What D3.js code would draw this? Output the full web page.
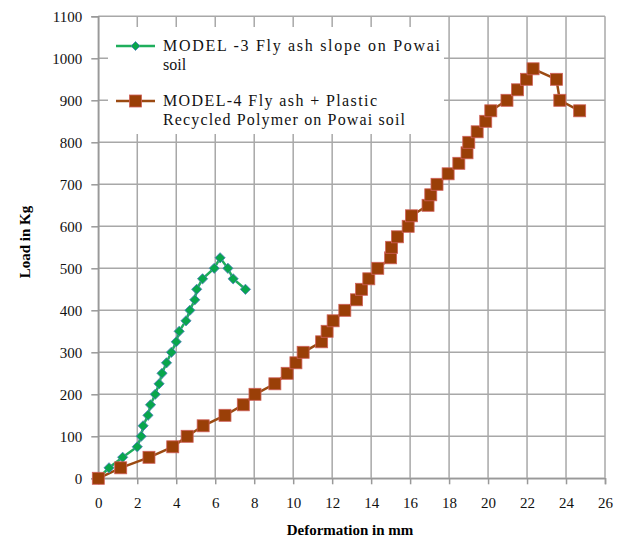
<!DOCTYPE html>
<html><head><meta charset="utf-8">
<script src="https://cdn.jsdelivr.net/npm/d3@7"></script>
<style>body{margin:0;background:#fff}svg{display:block}svg text{font-family:"Liberation Serif","Times New Roman",serif}</style>
</head><body>
<svg id="chart" width="630" height="539"></svg>
<script>
// ---- data ----
const xTicks = [0,2,4,6,8,10,12,14,16,18,20,22,24,26];
const yTicks = [0,100,200,300,400,500,600,700,800,900,1000,1100];
const model3Def  = [0,0.55,1.25,2.0,2.2,2.3,2.55,2.68,2.92,3.12,3.27,3.5,3.75,4.0,4.15,4.5,4.7,4.95,5.05,5.35,5.95,6.25,6.65,6.92,7.55];
const model3Load = [0,25,50,75,100,125,150,175,200,225,250,275,300,325,350,375,400,425,450,475,500,525,500,475,450];
const model4Def  = [0,1.15,2.6,3.82,4.56,5.38,6.5,7.44,8.04,9.06,9.69,10.14,10.51,11.46,11.74,12.05,12.65,13.25,13.51,13.88,14.34,15.0,15.05,15.35,15.9,16.07,16.92,17.06,17.38,17.95,18.5,18.92,19.01,19.44,19.88,20.14,20.97,21.51,21.97,22.31,23.51,23.68,24.7];
const model4Load = [0,25,50,75,100,125,150,175,200,225,250,275,300,325,350,375,400,425,450,475,500,525,550,575,600,625,650,675,700,725,750,775,800,825,850,875,900,925,950,975,950,900,875];
const seriesNames = [["MODEL  -3 Fly ash slope on Powai","soil"],["MODEL-4 Fly ash + Plastic","Recycled Polymer on Powai soil"]];

// ---- layout ----
const svg = d3.select("#chart");
const font = '"Liberation Serif","Times New Roman",serif';
const x = d3.scaleLinear().domain([0,26]).range([98.3,605]);
const y = d3.scaleLinear().domain([0,1100]).range([478.3,16.3]);
const gridColor = "#a8a8a8";

// gridlines
const g = svg.append("g");
g.selectAll("line.v").data(xTicks).join("line")
  .attr("x1", d=>x(d)).attr("x2", d=>x(d)).attr("y1", y(0)).attr("y2", y(1100))
  .attr("stroke", gridColor).attr("stroke-width", 1.5);
g.selectAll("line.h").data(yTicks).join("line")
  .attr("x1", x(0)).attr("x2", x(26)).attr("y1", d=>y(d)).attr("y2", d=>y(d))
  .attr("stroke", gridColor).attr("stroke-width", 1.5);

// axes
const xAxis = svg.append("g").attr("transform", `translate(0,${y(0)})`)
  .call(d3.axisBottom(x).tickValues(xTicks).tickSize(6).tickPadding(13).tickFormat(d3.format("d")));
const yAxis = svg.append("g").attr("transform", `translate(${x(0)},0)`)
  .call(d3.axisLeft(y).tickValues(yTicks).tickSize(7).tickPadding(9).tickFormat(d3.format("d")));
[xAxis, yAxis].forEach(a => {
  a.attr("font-family", null).attr("font-size", null);
  a.select(".domain").attr("stroke", "#999").attr("stroke-width", 1.5);
  a.selectAll(".tick line").attr("stroke", "#999").attr("stroke-width", 1.5);
  a.selectAll("text").style("font-family", font).style("font-size", "15px").attr("fill", "#111");
});

// axis titles
svg.append("text").attr("x", 350).attr("y", 535).attr("text-anchor", "middle")
  .style("font-family", font).attr("font-weight", "bold").style("font-size", "15px")
  .text("Deformation in mm");
svg.append("text").attr("transform", "translate(30,242) rotate(-90)").attr("text-anchor", "middle")
  .style("font-family", font).attr("font-weight", "bold").style("font-size", "15px")
  .text("Load in Kg");

// legend box
svg.append("rect").attr("x", 108).attr("y", 27).attr("width", 336).attr("height", 107).attr("fill", "#fff");

const green = "#1fae5c", greenFill = "#08a64c", greenEdge = "#4f81bd";
const brown = "#9b4a12", brownFill = "#9a3f07", brownEdge = "#d0605a";

const line = d3.line().x(d=>x(d[0])).y(d=>y(d[1]));
const d3data = model3Def.map((v,i)=>[v, model3Load[i]]);
const d4data = model4Def.map((v,i)=>[v, model4Load[i]]);

// series 4 (brown)
svg.append("path").datum(d4data).attr("d", line).attr("fill","none")
  .attr("stroke", brown).attr("stroke-width", 2.5);
// series 3 (green)
svg.append("path").datum(d3data).attr("d", line).attr("fill","none")
  .attr("stroke", green).attr("stroke-width", 2.5);

svg.append("g").selectAll("path").data(d3data).join("path")
  .attr("d", d3.symbol().type(d3.symbolSquare).size(52))
  .attr("transform", d=>`translate(${x(d[0])},${y(d[1])}) rotate(45)`)
  .attr("fill", greenFill).attr("stroke", greenEdge).attr("stroke-width", 0.8);

const sq = 12;
svg.append("g").selectAll("rect").data(d4data).join("rect")
  .attr("x", d=>x(d[0])-sq/2).attr("y", d=>y(d[1])-sq/2).attr("width", sq).attr("height", sq)
  .attr("fill", brownFill).attr("stroke", brownEdge).attr("stroke-width", 0.8);

// legend entries
const leg = svg.append("g");
leg.append("line").attr("x1",116).attr("x2",155).attr("y1",46).attr("y2",46).attr("stroke",green).attr("stroke-width",2.5);
leg.append("path").attr("d", d3.symbol().type(d3.symbolSquare).size(40)).attr("transform","translate(135.5,46) rotate(45)")
  .attr("fill", greenFill).attr("stroke", greenEdge).attr("stroke-width",0.8);
leg.append("line").attr("x1",116).attr("x2",155).attr("y1",101).attr("y2",101).attr("stroke",brown).attr("stroke-width",2.5);
leg.append("rect").attr("x",129.5).attr("y",95).attr("width",12).attr("height",12)
  .attr("fill", brownFill).attr("stroke", brownEdge).attr("stroke-width",0.8);

const legLines = [
  {t: seriesNames[0][0], y: 51, w: 277},
  {t: seriesNames[0][1], y: 70, w: 0},
  {t: seriesNames[1][0], y: 106, w: 214},
  {t: seriesNames[1][1], y: 125, w: 242}
];
legLines.forEach(l => {
  const t = leg.append("text").attr("x", 163).attr("y", l.y).style("font-family", font)
    .style("font-size", "16px").attr("fill", "#111").text(l.t);
  if (l.w) t.attr("textLength", l.w).attr("lengthAdjust", "spacing");
});
</script>
</body></html>
